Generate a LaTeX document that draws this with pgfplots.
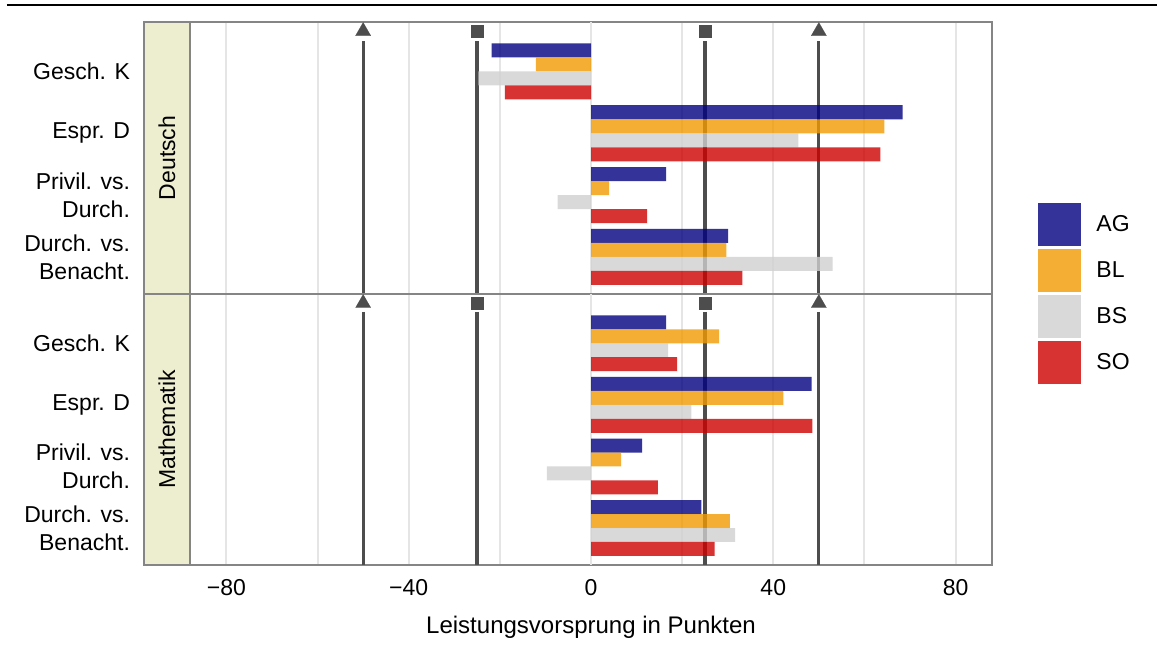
\documentclass[border=0pt]{standalone}
\usepackage{fontspec}
\setmainfont{Liberation Sans}
\usepackage{pgfplots}
\pgfplotsset{compat=1.18}
\definecolor{AGc}{RGB}{0,0,128}
\definecolor{BLc}{RGB}{241,154,0}
\definecolor{BSc}{RGB}{208,208,208}
\definecolor{SOc}{RGB}{206,0,0}
\definecolor{linec}{RGB}{77,77,77}
\definecolor{gridc}{RGB}{229,229,229}
\definecolor{zeroc}{RGB}{190,190,190}
\definecolor{framec}{RGB}{133,133,133}
\definecolor{stripc}{RGB}{237,237,208}
\pgfplotsset{
  panel/.style={
    scale only axis, width=401pt,
    xmin=-88, xmax=88, ymin=0.2, ymax=4.6, y dir=reverse,
    clip=false,
    axis line style={draw=framec, line width=1pt},
    xtick={-80,-40,40,80}, minor xtick={-60,-20,20,60},
    xticklabels={−80,−40,40,80},
    extra x ticks={0}, extra x tick labels={0},
    extra x tick style={grid style={draw=zeroc, line width=1pt}},
    xmajorgrids, xminorgrids,
    major grid style={draw=gridc, line width=1pt},
    minor grid style={draw=gridc, line width=1pt},
    major tick length=0pt, minor tick length=0pt,
    ytick={1,2,3,4},
    yticklabels={Gesch. K, Espr. D, {Privil. vs.\\Durch.}, {Durch. vs.\\Benacht.}},
    yticklabel style={align=right, anchor=east, xshift=-26.5pt, font=\fontsize{11.5}{14}\selectfont},
    xticklabel style={font=\fontsize{11.5}{13}\selectfont, yshift=-3.5pt},
    /pgf/number format/assume math mode=true,
  },
  mybar/.style={xbar, bar width=0.227, draw=none, fill=#1, fill opacity=0.8,
    legend image code/.code={\fill[fill=#1, fill opacity=0.8] (0pt,-10.75pt) rectangle (21.5pt,10.75pt);}},
  vline/.style={draw=linec, line width=1.6pt, forget plot},
  tri/.style={only marks, mark=triangle*, mark size=4.4pt, mark options={fill=linec, draw=linec, line width=0.1pt}, forget plot},
  sq/.style={only marks, mark=square*, mark size=2.9pt, mark options={fill=linec, draw=linec, line width=0.1pt}, forget plot},
}
\begin{document}
\begin{tikzpicture}
\path[use as bounding box] (-95pt,-43.5pt) rectangle (483.5pt,282.5pt);
\draw[black, line width=0.8pt] (-91.5pt,280pt) -- (483.5pt,280pt);
% upper panel
\begin{axis}[panel, name=top, at={(0pt,135.5pt)}, anchor=south west, height=136pt,
  xticklabels={}, extra x tick labels={},
  legend style={at={(1,0)}, anchor=west, xshift=23pt, draw=none, fill=none, inner sep=0pt,
    row sep=1.5pt, font=\fontsize{11.5}{13}\selectfont, legend cell align=left,
    nodes={inner xsep=7.5pt}},
]
\addplot[vline] coordinates {(-50,0.51) (-50,4.6)};
\addplot[vline] coordinates {(-25,0.51) (-25,4.6)};
\addplot[vline] coordinates {(25,0.51) (25,4.6)};
\addplot[vline] coordinates {(50,0.51) (50,4.6)};
\addplot[tri] coordinates {(-50,0.35) (50,0.35)};
\addplot[sq] coordinates {(-25,0.35) (25,0.35)};
\addplot[mybar=AGc, bar shift=-0.34] coordinates {(-21.8,1) (68.4,2) (16.5,3) (30.1,4)};
\addplot[mybar=BLc, bar shift=-0.113] coordinates {(-12.1,1) (64.4,2) (4.0,3) (29.7,4)};
\addplot[mybar=BSc, bar shift=0.113] coordinates {(-24.7,1) (45.5,2) (-7.3,3) (53.0,4)};
\addplot[mybar=SOc, bar shift=0.34] coordinates {(-18.9,1) (63.5,2) (12.3,3) (33.2,4)};
\legend{AG,BL,BS,SO}
\end{axis}
% lower panel
\begin{axis}[panel, name=bot, at={(0pt,0pt)}, anchor=south west, height=135.5pt,
  xlabel={Leistungsvorsprung in Punkten},
  xlabel style={at={(axis description cs:0.5,0)}, anchor=center, yshift=-31pt, font=\fontsize{12}{14}\selectfont},
]
\addplot[vline] coordinates {(-50,0.49) (-50,4.6)};
\addplot[vline] coordinates {(-25,0.49) (-25,4.6)};
\addplot[vline] coordinates {(25,0.49) (25,4.6)};
\addplot[vline] coordinates {(50,0.49) (50,4.6)};
\addplot[tri] coordinates {(-50,0.35) (50,0.35)};
\addplot[sq] coordinates {(-25,0.35) (25,0.35)};
\addplot[mybar=AGc, bar shift=-0.34] coordinates {(16.5,1) (48.4,2) (11.2,3) (24.2,4)};
\addplot[mybar=BLc, bar shift=-0.113] coordinates {(28.1,1) (42.2,2) (6.6,3) (30.5,4)};
\addplot[mybar=BSc, bar shift=0.113] coordinates {(16.9,1) (22.0,2) (-9.7,3) (31.6,4)};
\addplot[mybar=SOc, bar shift=0.34] coordinates {(18.9,1) (48.6,2) (14.7,3) (27.1,4)};
\end{axis}
% strips
\draw[draw=framec, line width=1pt, fill=stripc] ([xshift=-23pt]top.south west) rectangle (top.north west);
\draw[draw=framec, line width=1pt, fill=stripc] ([xshift=-23pt]bot.south west) rectangle (bot.north west);
\node[rotate=90, font=\fontsize{11.5}{13}\selectfont] at ([xshift=-11.5pt]top.west) {Deutsch};
\node[rotate=90, font=\fontsize{11.5}{13}\selectfont] at ([xshift=-11.5pt]bot.west) {Mathematik};
\end{tikzpicture}
\end{document}
